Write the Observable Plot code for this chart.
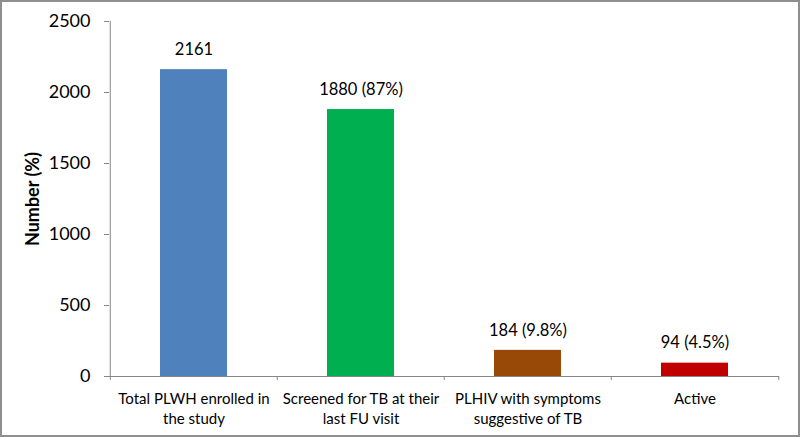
<!DOCTYPE html>
<html>
<head>
<meta charset="utf-8">
<script src="https://cdn.jsdelivr.net/npm/d3@7"></script>
<script src="https://cdn.jsdelivr.net/npm/@observablehq/plot@0.6"></script>
<style>
  html, body { margin: 0; padding: 0; background: #fff; }
</style>
</head>
<body>
<div id="chart"></div>
<script>
const categories = [
  "Total PLWH enrolled in\nthe study",
  "Screened for TB at their\nlast FU visit",
  "PLHIV with symptoms\nsuggestive of TB",
  "Active"
];
const values = [2161, 1880, 184, 94];
const valueLabels = ["2161", "1880 (87%)", "184 (9.8%)", "94 (4.5%)"];
const barColors = ["#4F81BD", "#00B050", "#984807", "#C00000"];
const yTicks = [0, 500, 1000, 1500, 2000, 2500];

const data = categories.map((c, i) => ({cat: c, value: values[i], label: valueLabels[i], color: barColors[i]}));

const W = 800, H = 437, mL = 109, mR = 21, mT = 21, mB = 61;
const step = (W - mL - mR) / categories.length;
const tickUnits = 4 / (H - mT - mB) * 2500;

const font = "Lato, 'Liberation Sans', sans-serif";

const chart = Plot.plot({
  width: W,
  height: H,
  marginLeft: mL,
  marginRight: mR,
  marginTop: mT,
  marginBottom: mB,
  style: {fontFamily: font, fontSize: "16px", color: "#000", background: "#fff", outline: "2px solid #8f8f8f", outlineOffset: "-2px"},
  x: {domain: categories, paddingInner: 0.6, paddingOuter: 0.3, label: null},
  y: {domain: [0, 2500], label: null},
  marks: [
    Plot.barY(data, {x: "cat", y: "value", fill: "color"}),
    Plot.text(data, {x: "cat", y: "value", text: "label", dy: -20, fontSize: 16.5, fill: "#000"}),
    Plot.axisY({ticks: yTicks, tickFormat: d3.format("d"), tickSize: 5, tickPadding: 14, fontSize: 18, stroke: "#868686", color: "#000", label: null}),
    Plot.ruleX([categories[0]], {x: d => d, dx: -step / 2, y1: 0, y2: 2500, stroke: "#868686"}),
    Plot.ruleY([0], {stroke: "#868686"}),
    Plot.ruleX(categories, {x: d => d, dx: -step / 2, y1: 0, y2: -tickUnits, stroke: "#868686"}),
    Plot.ruleX([categories[categories.length - 1]], {x: d => d, dx: step / 2, y1: 0, y2: -tickUnits, stroke: "#868686"}),
    Plot.axisX({tickSize: 0, tickPadding: 13, fontSize: 15, lineHeight: 1.35, color: "#000", label: null}),
    Plot.text(["Number (%)"], {frameAnchor: "left", dx: -76, rotate: -90, textAnchor: "middle", fontWeight: "bold", fontSize: 18, fill: "#000"})
  ]
});
document.getElementById("chart").appendChild(chart);
</script>
</body>
</html>
